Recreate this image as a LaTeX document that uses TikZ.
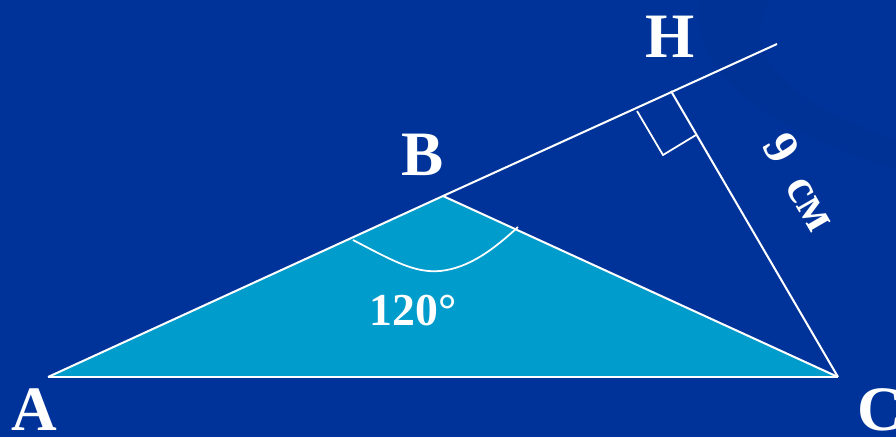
\documentclass[tikz,border=0pt]{standalone}
\usepackage{fontspec}
\setmainfont{Liberation Serif}
\usetikzlibrary{arrows.meta, positioning}
\definecolor{slideblue}{HTML}{003399}
\definecolor{swoosh}{HTML}{00308F}
\definecolor{trifill}{HTML}{009CCB}

\begin{document}
\begin{tikzpicture}[x=0.02cm, y=-0.02cm, >=Stealth,
  edge/.style={white, line width=1.15pt},
  vlabel/.style={text=white, font=\fontsize{36}{36}\selectfont\bfseries},
  mlabel/.style={text=white, font=\fontsize{26}{26}\selectfont\bfseries}]
  % slide background
  \fill[slideblue] (0,0) rectangle (896,437);
  \useasboundingbox (0,0) rectangle (896,437);
  \fill[swoosh, opacity=0.35] (700,0) .. controls (690,60) and (740,120) .. (896,170)
    -- (896,140) .. controls (780,100) and (740,50) .. (770,0) -- cycle;
  % the triangle
  \coordinate (A) at (48,377);
  \coordinate (B) at (443,196);
  \coordinate (C) at (838,377);
  \coordinate (H) at (671,91);
  \coordinate (E) at (777,44);
  \fill[trifill] (A) -- (B) -- (C) -- cycle;
  \draw[edge] (A) -- (C);
  \draw[edge] (A) -- (B) -- (E);
  \draw[edge] (B) -- (C);
  \draw[edge] (H) -- (C);
  % right angle at H
  \coordinate (r1) at (637,111);
  \coordinate (r2) at (663,155);
  \coordinate (r3) at (696,135);
  \draw[white, line width=1pt] (r1) -- (r2) -- (r3);
  % angle mark at B
  \draw[white, line width=1pt] (353,240) .. controls (395,262) and (415,273) .. (440,271)
    .. controls (470,268) and (495,248) .. (518,227);
  % labels
  \node[vlabel] (lA) at (34,410) {A};
  \node[vlabel] (lB) at (423,155) {B};
  \node[vlabel] (lC) at (880,410) {C};
  \node[vlabel] (lH) at (670,37) {H};
  \node[mlabel] (ang) at (413,311) {120°};
  \node[mlabel, font=\fontsize{28}{28}\selectfont\bfseries, rotate=-60] (len) at (801,182) {9\hspace{0.45em}см};
\end{tikzpicture}
\end{document}
